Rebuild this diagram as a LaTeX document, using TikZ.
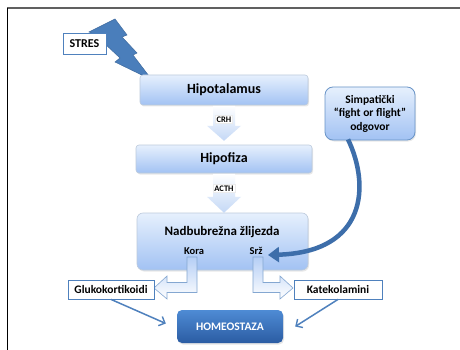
\documentclass[tikz,border=0pt]{standalone}
\usepackage{fontspec}
\setmainfont{Carlito}
\usetikzlibrary{arrows.meta,calc,shadows}
\definecolor{boxtop}{HTML}{E6F0FD}
\definecolor{boxbot}{HTML}{A2C2F3}
\definecolor{boxline}{HTML}{BCCADC}
\definecolor{bluel}{HTML}{4F81BD}
\definecolor{darkb}{HTML}{3D6EAA}
\definecolor{hometop}{HTML}{4E8BD4}
\definecolor{homebot}{HTML}{2B5CA3}
\definecolor{arrbot}{HTML}{C4D8F6}
\definecolor{boltc}{HTML}{4A7EBB}
\begin{document}
\begin{tikzpicture}[x=1pt,y=-1pt,
  gbox/.style={draw=boxline, line width=0.6pt, rounded corners=3pt, top color=boxtop, bottom color=boxbot, inner sep=0pt,
    drop shadow={opacity=0.18, shadow xshift=1pt, shadow yshift=-1.5pt}},
  wbox/.style={draw=bluel, line width=0.8pt, fill=white, inner sep=0pt},
  bigtxt/.style={font=\fontsize{14}{16}\selectfont\bfseries},
  midtxt/.style={font=\fontsize{11.5}{13.5}\selectfont\bfseries},
  smalltxt/.style={font=\fontsize{8.5}{9}\selectfont\bfseries, fill=white, draw=gray!15, inner sep=1.2pt},
  blockarrow/.style={top color=white, bottom color=arrbot},
  bentarrow/.style={draw=bluel!70, line width=0.6pt, top color=boxbot!80, bottom color=white},
  thinarrow/.style={bluel, line width=1.5pt, -{Straight Barb[length=5pt,width=10pt,line width=1.4pt]}}
]
\useasboundingbox (0,0) rectangle (460,350);
\fill[white] (0,0) rectangle (460,350);
% frame
\draw[gray!75!black, line width=1.2pt] (7,8) -- (460,8);
\draw[black, line width=0.9pt] (7,8) -- (7,350);

% lightning bolt
\filldraw[fill=boltc, draw=boltc!85!black, line width=0.5pt, line join=miter]
  (89,32) -- (115,19) -- (127,35) -- (122,37) -- (137,53) -- (133,55) -- (152,80)
  -- (115,62) -- (120,58) -- (103,42) -- (107,39) -- cycle;

% main boxes
\node[gbox, bigtxt, minimum width=168pt, minimum height=30pt] (hyp) at (224,90) {Hipotalamus};
\node[gbox, bigtxt, minimum width=176pt, minimum height=28pt] (hypo) at (224,159) {Hipofiza};
\node[gbox, rounded corners=6pt, minimum width=171pt, minimum height=57pt] (adr) at (222.5,241.5) {};
\node[font=\fontsize{13}{15}\selectfont\bfseries] (adrt) at (222,232) {Nadbubrežna žlijezda};
\node[font=\fontsize{10.5}{12}\selectfont\bfseries] (kora) at (194,251) {Kora};
\node[font=\fontsize{10.5}{12}\selectfont\bfseries] (srz) at (256,251) {Srž};

\node[wbox, font=\fontsize{12}{14}\selectfont\bfseries, minimum width=43pt, minimum height=21pt] (stres) at (84.5,43.5) {STRES};

\node[gbox, midtxt, draw=bluel!85, line width=0.8pt, rounded corners=8pt, minimum width=90pt, minimum height=53pt, align=center] (sim) at (370,113.5)
  {Simpatički\\“fight or flight”\\odgovor};

% block arrows CRH / ACTH
\shade[blockarrow] ($(hyp.south)+(-11,0.5)$) -- ++(22,0) -- ++(0,20) -- ++(6,0) -- ++(-17,15) -- ++(-17,-15) -- ++(6,0) -- cycle;
\node[smalltxt] (crh) at ($(hyp.south)+(0,14)$) {CRH};
\shade[blockarrow] ($(hypo.south)+(-11,0.5)$) -- ++(22,0) -- ++(0,23) -- ++(6,0) -- ++(-17,16) -- ++(-17,-16) -- ++(6,0) -- cycle;
\node[smalltxt] (acth) at ($(hypo.south)+(0,15)$) {ACTH};

% bent arrows
\shade[bentarrow] (187,257) -- (197,257) -- (197,292.5) -- (167,292.5) -- (167,299) -- (154,288) -- (167,276) -- (167,282.5) -- (187,282.5) -- cycle;
\shade[bentarrow] (263,257) -- (253,257) -- (253,292.5) -- (280,292.5) -- (280,299) -- (293,288) -- (280,276) -- (280,282.5) -- (263,282.5) -- cycle;

\node[wbox, midtxt, minimum width=86pt, minimum height=19pt] (gluk) at (111,289.5) {Glukokortikoidi};
\node[wbox, midtxt, minimum width=88pt, minimum height=19pt] (kat) at (338,289.5) {Katekolamini};

\node[draw=none, top color=hometop, bottom color=homebot, rounded corners=5pt, minimum width=106pt, minimum height=33pt,
  midtxt, text=white, drop shadow={opacity=0.2, shadow xshift=1pt, shadow yshift=-1.5pt}] (home) at (230,326.5) {HOMEOSTAZA};

% curved sympathetic arrow
\coordinate (srzin) at ($(srz.east)+(2,4)$);
\draw[darkb, line width=4.5pt, -{Triangle[length=11pt,width=15pt]}]
  ($(sim.south)+(-22,-1)$) .. controls (370,185) and (367,252) .. (srzin);

% thin arrows to homeostasis
\coordinate (homel) at ($(home.west)+(-11,-3)$);
\coordinate (homer) at ($(home.east)+(12,0)$);
\draw[thinarrow] (gluk.south) -- (homel);
\draw[thinarrow] (kat.south) -- (homer);
\end{tikzpicture}
\end{document}
